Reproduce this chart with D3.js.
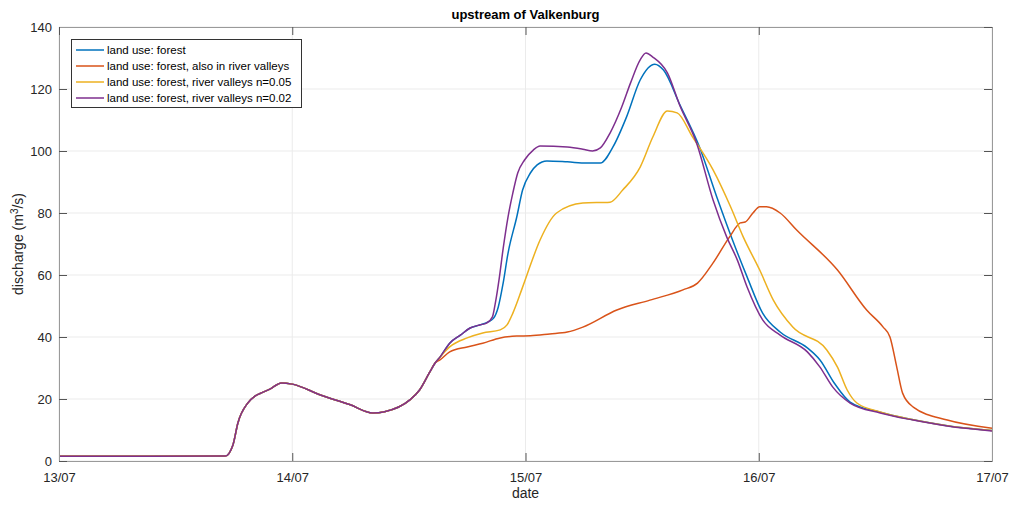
<!DOCTYPE html>
<html>
<head>
<meta charset="utf-8">
<script src="https://cdn.jsdelivr.net/npm/d3@7"></script>
<style>
  body { margin: 0; background: #fff; }
  svg { font-family: "Liberation Sans", Arial, Helvetica, sans-serif; }
</style>
</head>
<body>
<div id="chart"></div>
<script>
// Data: hours after 13/07 00:00 and discharge (m3/s) ------------------------------------------------------------
const startDate = new Date(2021, 6, 13);
const xTickDates = ["13/07", "14/07", "15/07", "16/07", "17/07"];
const yTicks = [0, 20, 40, 60, 80, 100, 120, 140];

// shared rising limb, identical for all runs
const commonHours = [0, 9.4, 17.1, 17.9, 18.4, 19.4, 20.2, 21.0, 21.7, 22.9, 24.0, 26.9, 29.9, 32.3, 33.5, 36.1, 37.1, 38.1, 38.7];
const commonValues = [1.5, 1.5, 1.6, 5.2, 12.2, 18.6, 21.0, 22.2, 23.2, 25.2, 24.8, 21.3, 18.2, 15.5, 15.9, 19.7, 22.9, 28.4, 31.6];

const forestHours = [39.2, 40.2, 41.3, 42.3, 43.3, 44.1, 44.7, 45.2, 45.7, 46.2, 47.1, 47.7, 48.5, 49.2, 50.2, 52.3,
  54.3, 55.7, 57.0, 58.4, 59.8, 61.3, 62.2, 63.9, 65.9, 67.7, 69.3, 70.8, 72.4, 74.2, 77.0, 78.3, 79.8, 81.4, 84.5,
  87.9, 91.4, 96.0];
const forestValues = [33.5, 38.0, 40.6, 42.9, 43.9, 44.8, 46.0, 49.7, 57.4, 67.0, 78.7, 87.4, 92.9, 95.5, 96.8, 96.5,
  96.1, 96.1, 101.3, 111.0, 122.9, 128.0, 126.1, 114.8, 101.3, 85.0, 71.3, 59.4, 47.7, 41.6, 36.5, 32.6, 25.0, 19.0, 15.7,
  13.3, 11.4, 9.8];

const valleyHours = [39.2, 40.2, 42.0, 43.6, 45.4, 47.1, 48.5, 50.5, 52.3, 53.9, 57.4, 60.8, 64.2, 65.7, 67.3, 69.0,
  70.1, 70.6, 71.4, 72.1, 72.8, 74.2, 75.9, 80.1, 83.1, 84.8, 85.5, 86.2, 86.8, 87.9, 91.4, 96.0];
const valleyValues = [32.6, 35.2, 36.8, 38.0, 39.7, 40.3, 40.4, 41.0, 41.6, 43.2, 48.7, 51.9, 55.2, 57.4, 63.9, 72.3,
  76.8, 77.1, 80.0, 82.0, 82.0, 80.0, 74.5, 61.6, 48.7, 43.2, 40.0, 30.3, 21.9, 17.4, 13.2, 10.6];

const n005Hours = [39.2, 40.2, 42.0, 43.6, 45.4, 46.1, 46.7, 47.6, 48.2, 49.5, 51.2, 53.9, 56.7, 58.0, 59.8, 61.1,
  62.6, 63.6, 65.2, 67.3, 69.1, 70.4, 72.1, 73.5, 75.5, 79.0, 80.1, 81.1, 82.1, 84.5, 87.9, 91.4, 96.0];
const n005Values = [33.5, 36.8, 39.7, 41.3, 42.3, 43.9, 47.7, 55.2, 60.5, 71.3, 80.0, 83.2, 83.5, 87.4, 94.8, 104.5,
  112.9, 112.3, 104.5, 93.9, 82.0, 72.3, 61.6, 51.9, 43.2, 35.8, 30.3, 22.9, 18.7, 15.8, 13.3, 11.4, 9.8];

const n002Hours = [39.2, 40.2, 41.3, 42.3, 43.3, 44.0, 44.6, 44.9, 45.3, 45.7, 46.2, 46.7, 47.2, 47.9, 48.8, 49.5,
  52.3, 53.9, 54.9, 55.7, 56.7, 57.9, 58.8, 59.8, 60.4, 61.1, 62.6, 63.9, 65.6, 67.3, 68.7, 69.8, 70.8, 72.4, 74.2,
  77.0, 78.3, 79.6, 81.4, 84.5, 87.9, 91.4, 96.0];
const n002Values = [33.5, 38.0, 40.6, 42.9, 43.9, 44.5, 46.5, 51.0, 59.0, 68.5, 78.7, 86.5, 92.9, 97.1, 100.3, 101.6,
  101.3, 100.6, 100.0, 101.0, 105.8, 114.2, 121.9, 129.4, 131.6, 130.3, 125.2, 114.5, 102.6, 84.2, 72.3, 64.8, 56.1,
  45.5, 40.6, 35.2, 30.3, 23.9, 18.7, 15.5, 13.2, 11.3, 9.7];

const seriesNames = [
  "land use: forest",
  "land use: forest, also in river valleys",
  "land use: forest, river valleys n=0.05",
  "land use: forest, river valleys n=0.02"
];
const seriesColors = ["#0072BD", "#D95319", "#EDB120", "#7E2F8E"];
const seriesHours = [forestHours, valleyHours, n005Hours, n002Hours];
const seriesValues = [forestValues, valleyValues, n005Values, n002Values];

// Canvas -------------------------------------------------------------------------------------------------------
const canvasWidth = 1011;
const canvasHeight = 505;
const leftPadding = 59;
const rightPadding = 19;
const topPadding = 27;
const bottomPadding = 44;
const axisColor = "#262626";
const boxColor = "#9a9a9a";

const svg = d3.select("#chart")
  .append("svg")
  .attr("width", canvasWidth)
  .attr("height", canvasHeight);

const toDate = h => new Date(startDate.getTime() + h * 3600 * 1000);

const xScale = d3.scaleTime()
  .domain([startDate, toDate(96)])
  .range([leftPadding, canvasWidth - rightPadding]);
const yScale = d3.scaleLinear()
  .domain([0, 140])
  .range([canvasHeight - bottomPadding, topPadding]);

const xTickValues = xTickDates.map((d, i) => toDate(i * 24));
const plotW = canvasWidth - leftPadding - rightPadding;
const plotH = canvasHeight - topPadding - bottomPadding;

// Grid
svg.append("g")
  .selectAll("line")
  .data(xTickValues)
  .join("line")
  .attr("x1", d => xScale(d)).attr("x2", d => xScale(d))
  .attr("y1", topPadding).attr("y2", canvasHeight - bottomPadding)
  .attr("stroke", "#ebebeb").attr("stroke-width", 1);
svg.append("g")
  .selectAll("line")
  .data(yTicks)
  .join("line")
  .attr("x1", leftPadding).attr("x2", canvasWidth - rightPadding)
  .attr("y1", d => yScale(d)).attr("y2", d => yScale(d))
  .attr("stroke", "#ebebeb").attr("stroke-width", 1);

// Lines
const line = d3.line()
  .x(d => xScale(toDate(d[0])))
  .y(d => yScale(d[1]))
  .curve(d3.curveMonotoneX);

const commonPoints = commonHours.map((h, i) => [h, commonValues[i]]);
seriesNames.forEach(function(name, s) {
  const pts = commonPoints.concat(seriesHours[s].map((h, i) => [h, seriesValues[s][i]]));
  svg.append("path")
    .datum(pts)
    .attr("d", line)
    .attr("fill", "none")
    .attr("stroke", seriesColors[s])
    .attr("stroke-width", 1.5)
    .attr("stroke-linejoin", "round");
});

// Axes
const xAxis = svg.append("g")
  .attr("transform", "translate(0," + (canvasHeight - bottomPadding) + ")")
  .call(d3.axisBottom(xScale).tickValues(xTickValues).tickFormat((d, i) => xTickDates[i]).tickSize(-8).tickPadding(12));
const yAxis = svg.append("g")
  .attr("transform", "translate(" + leftPadding + ",0)")
  .call(d3.axisLeft(yScale).tickValues(yTicks).tickSize(-8).tickPadding(7));
const xAxisTop = svg.append("g")
  .attr("transform", "translate(0," + topPadding + ")")
  .call(d3.axisTop(xScale).tickValues(xTickValues).tickSize(-8).tickFormat(""));
const yAxisRight = svg.append("g")
  .attr("transform", "translate(" + (canvasWidth - rightPadding) + ",0)")
  .call(d3.axisRight(yScale).tickValues(yTicks).tickSize(-8).tickFormat(""));

[xAxis, yAxis, xAxisTop, yAxisRight].forEach(function(a) {
  a.select(".domain").attr("stroke", boxColor);
  a.selectAll(".tick line").attr("stroke", "#555");
  a.selectAll("text").style("font-size", "13px").attr("fill", axisColor);
});

// Titles
svg.append("text")
  .text("upstream of Valkenburg")
  .attr("x", leftPadding + plotW / 2)
  .attr("y", 19)
  .attr("text-anchor", "middle")
  .style("font-size", "13px")
  .style("font-weight", "bold")
  .attr("fill", "#000");

svg.append("text")
  .text("date")
  .attr("x", leftPadding + plotW / 2)
  .attr("y", 498)
  .attr("text-anchor", "middle")
  .style("font-size", "14px")
  .attr("fill", axisColor);

const yLabel = svg.append("text")
  .attr("transform", "translate(23," + (topPadding + plotH / 2) + ") rotate(-90)")
  .attr("text-anchor", "middle")
  .style("font-size", "14px")
  .attr("fill", axisColor);
yLabel.append("tspan").text("discharge (m");
yLabel.append("tspan").text("3").attr("baseline-shift", "super").style("font-size", "10px");
yLabel.append("tspan").text("/s)");

// Legend
const legend = svg.append("g");
legend.append("rect")
  .attr("x", 71.5).attr("y", 39.5)
  .attr("width", 230).attr("height", 68)
  .attr("fill", "#fff")
  .attr("stroke", "#333").attr("stroke-width", 1);
seriesNames.forEach(function(name, s) {
  const y = 50 + s * 16;
  legend.append("line")
    .attr("x1", 76).attr("x2", 104)
    .attr("y1", y).attr("y2", y)
    .attr("stroke", seriesColors[s]).attr("stroke-width", 1.5);
  legend.append("text")
    .text(name)
    .attr("x", 107).attr("y", y + 4)
    .style("font-size", "11.5px")
    .attr("fill", "#000");
});
</script>
</body>
</html>
